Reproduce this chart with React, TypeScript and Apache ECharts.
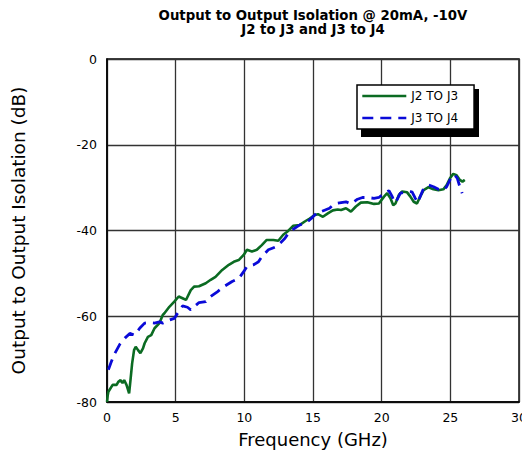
import React, { useEffect, useRef } from "react";
import * as echarts from "echarts";

const titleLines = ["Output to Output Isolation @ 20mA, -10V", "J2 to J3 and J3 to J4"];
const xAxisName = "Frequency (GHz)";
const yAxisName = "Output to Output Isolation (dB)";
const seriesNames = ["J2 TO J3", "J3 TO J4"];

const j2j3Freq = [
  0, 0.05, 0.1, 0.41, 0.7, 0.82, 0.99, 1.13, 1.25, 1.42, 1.61, 1.71, 1.83, 1.97, 2.09, 2.26, 2.43, 2.62,
  2.74, 2.98, 3.22, 3.46, 3.82, 4.06, 4.18, 4.54, 4.9, 5.22, 5.5, 5.75, 6.1, 6.34, 6.7, 7.19, 7.55, 7.9,
  8.39, 8.87, 9.23, 9.59, 9.95, 10.19, 10.55, 10.91, 11.27, 11.63, 12.11, 12.47, 12.83, 13.19, 13.55,
  14.04, 14.4, 14.76, 15.12, 15.36, 15.72, 16.08, 16.44, 16.8, 17.04, 17.4, 17.76, 18.12, 18.48, 18.96,
  19.44, 19.8, 20.17, 20.4, 20.64, 20.84, 21.0, 21.25, 21.49, 21.85, 22.09, 22.33, 22.57, 22.8, 23.05,
  23.41, 23.77, 24.13, 24.49, 24.73, 24.97, 25.21, 25.45, 25.69, 25.88, 26.05,
];
const j2j3Db = [
  -80, -78.5, -77.6, -76.0, -76.0, -75.3, -74.9, -75.6, -74.9, -76.0, -78.0, -74.9, -71.0, -67.9, -67.1,
  -67.9, -68.6, -67.5, -66.3, -64.8, -64.4, -62.8, -61.6, -59.7, -59.3, -57.8, -56.6, -55.4, -55.8, -56.2,
  -53.9, -53.1, -53.0, -52.3, -51.5, -50.8, -49.2, -48.0, -47.3, -46.9, -45.7, -44.5, -44.9, -44.5, -43.4,
  -42.2, -42.2, -42.4, -41.0, -40.1, -38.9, -38.7, -37.9, -37.2, -36.4, -36.2, -36.8, -36.0, -35.3, -35.1,
  -35.2, -34.8, -35.6, -34.4, -33.5, -33.4, -33.8, -33.7, -32.1, -31.3, -32.5, -34.1, -33.7, -31.7, -30.9,
  -31.1, -32.1, -33.3, -33.7, -32.1, -30.6, -29.9, -30.4, -30.6, -30.4, -29.4, -27.8, -26.8, -27.1, -28.2,
  -28.6, -28.2,
];

const j3j4Freq = [
  0.1, 0.34, 0.58, 0.94, 1.3, 1.66, 2.02, 2.38, 2.74, 3.1, 3.46, 3.82, 4.06, 4.54, 4.9, 5.14, 5.5, 5.86,
  6.1, 6.7, 7.19, 7.55, 8.03, 8.51, 9.11, 9.59, 9.95, 10.19, 10.67, 11.03, 11.27, 11.75, 12.23, 12.59,
  12.96, 13.19, 13.55, 14.04, 14.51, 14.87, 15.12, 15.36, 15.6, 16.2, 16.44, 16.68, 17.4, 17.76, 18.24,
  18.6, 18.96, 19.44, 19.8, 20.17, 20.53, 20.77, 20.93, 21.12, 21.36, 21.85, 22.21, 22.45, 22.62, 22.8,
  23.05, 23.41, 23.77, 24.13, 24.49, 24.73, 24.97, 25.16, 25.33, 25.5, 25.69, 25.86,
];
const j3j4Db = [
  -72.5, -70.4, -68.6, -66.5, -65.1, -64.0, -64.4, -62.8, -61.6, -61.5, -61.6, -61.3, -61.6, -60.9, -60.5,
  -59.3, -57.6, -57.9, -58.5, -56.8, -56.6, -55.4, -54.3, -53.1, -51.9, -51.2, -49.6, -48.4, -48.0, -47.3,
  -46.1, -44.5, -43.9, -43.0, -41.8, -40.7, -39.7, -38.7, -38.2, -37.2, -36.4, -35.6, -35.6, -34.8, -34.1,
  -33.7, -33.3, -33.8, -32.7, -32.3, -32.3, -32.5, -32.3, -31.3, -30.7, -32.1, -33.5, -32.8, -31.3, -30.9,
  -31.0, -32.5, -33.5, -32.1, -30.2, -29.4, -29.8, -30.4, -30.6, -29.8, -28.2, -27.1, -27.1, -27.8, -29.8,
  -31.3,
];

const xTicks = { min: 0, max: 30, interval: 5 };
const yTicks = { min: -80, max: 0, interval: 20 };

const FONT = "DejaVu Sans";

export default function App() {
  const ref = useRef<HTMLDivElement>(null);
  useEffect(() => {
    if (!ref.current) return;
    const chart = echarts.init(ref.current, undefined, { renderer: "svg" });
    const pair = (xs: number[], ys: number[]) => xs.map((x, i) => [x, ys[i]]);
    chart.setOption({
      animation: false,
      backgroundColor: "#ffffff",
      title: {
        text: titleLines.join("\n"),
        left: 308,
        top: 3,
        textAlign: "center",
        textStyle: {
          fontFamily: FONT,
          fontWeight: "bold",
          fontSize: 13.3,
          lineHeight: 14.5,
          color: "#000",
        },
      },
      grid: {
        left: 107,
        right: 7,
        top: 59,
        bottom: 61,
        show: true,
        borderColor: "#000",
        borderWidth: 1.5,
        backgroundColor: "transparent",
      },
      legend: {
        orient: "vertical",
        left: 357,
        top: 85,
        padding: [5, 16, 5, 4],
        itemWidth: 44,
        itemHeight: 14,
        itemGap: 10,
        itemTextGap: 6,
        backgroundColor: "#ffffff",
        borderColor: "#000",
        borderWidth: 1.5,
        borderRadius: 0,
        itemStyle: { color: "transparent", borderWidth: 0, opacity: 0 },
        lineStyle: { width: 2.6 },
        textStyle: { fontFamily: FONT, fontSize: 12, color: "#000" },
        data: seriesNames,
        z: 10,
      },
      graphic: [
        {
          type: "rect",
          shape: { x: 361, y: 89, width: 118, height: 48 },
          style: { fill: "#000" },
          z: 9,
        },
      ],
      xAxis: {
        type: "value",
        min: xTicks.min,
        max: xTicks.max,
        interval: xTicks.interval,
        name: xAxisName,
        nameLocation: "middle",
        nameGap: 28,
        nameTextStyle: { fontFamily: FONT, fontSize: 18, color: "#000" },
        axisLine: { show: true, onZero: false, lineStyle: { color: "#000", width: 1.5 } },
        axisTick: { show: false },
        axisLabel: { fontFamily: FONT, fontSize: 12.5, color: "#000", margin: 9 },
        splitLine: { show: true, lineStyle: { color: "#333", width: 1.3 } },
      },
      yAxis: {
        type: "value",
        min: yTicks.min,
        max: yTicks.max,
        interval: yTicks.interval,
        name: yAxisName,
        nameLocation: "middle",
        nameGap: 79,
        nameTextStyle: { fontFamily: FONT, fontSize: 18.5, color: "#000" },
        axisLine: { show: true, onZero: false, lineStyle: { color: "#000", width: 1.5 } },
        axisTick: { show: false },
        axisLabel: { fontFamily: FONT, fontSize: 12.5, color: "#000", margin: 10 },
        splitLine: { show: true, lineStyle: { color: "#333", width: 1.3 } },
      },
      series: [
        {
          name: seriesNames[0],
          type: "line",
          data: pair(j2j3Freq, j2j3Db),
          symbol: "none",
          lineStyle: { color: "#0b6b22", width: 2.6 },
          itemStyle: { color: "#0b6b22" },
          z: 3,
        },
        {
          name: seriesNames[1],
          type: "line",
          data: pair(j3j4Freq, j3j4Db),
          symbol: "none",
          lineStyle: { color: "#0a0ad8", width: 2.8, type: [11, 7] },
          itemStyle: { color: "#0a0ad8" },
          z: 4,
        },
      ],
    });
    return () => chart.dispose();
  }, []);
  return <div ref={ref} style={{ width: 530, height: 463, margin: -8 }} />;
}
